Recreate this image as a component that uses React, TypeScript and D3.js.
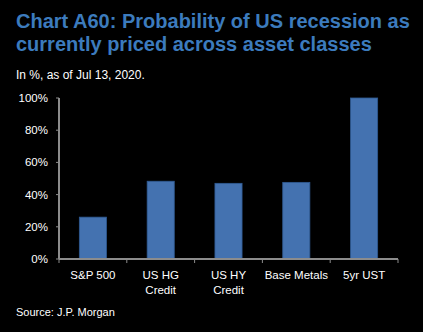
import React from "react";
import * as d3 from "d3";

const categories = [["S&P 500"], ["US HG", "Credit"], ["US HY", "Credit"], ["Base Metals"], ["5yr UST"]];
const values = [26, 48.3, 47, 47.6, 100];
const yTicks = [0, 20, 40, 60, 80, 100];

const W = 423, H = 332;
const left = 59, right = 398, top = 98, bottom = 259;

export default function App() {
  const x = d3.scaleBand<number>().domain(d3.range(values.length)).range([left, right]).paddingInner(0.6).paddingOuter(0.3);
  const xStep = d3.scaleLinear().domain([0, values.length]).range([left, right]);
  const y = d3.scaleLinear().domain([0, 100]).range([bottom, top]);
  const font = "'Liberation Sans', Arial, sans-serif";
  return (
    <svg width={W} height={H} style={{ position: "absolute", left: 0, top: 0, background: "#000" }} fontFamily={font}>
      <rect width={W} height={H} fill="#000" />
      <text x={16} y={28} fill="#3C7BBD" fontSize={20} fontWeight="bold">Chart A60: Probability of US recession as</text>
      <text x={16} y={51} fill="#3C7BBD" fontSize={20} fontWeight="bold">currently priced across asset classes</text>
      <text x={16} y={79} fill="#fff" fontSize={12}>In %, as of Jul 13, 2020.</text>
      {values.map((v, i) => (
        <rect key={i} x={x(i)} y={y(v)} width={x.bandwidth()} height={y(0) - y(v)} fill="#4472B0" stroke="#2F5A92" strokeWidth={0.8} />
      ))}
      <line x1={left} x2={left} y1={top} y2={bottom} stroke="#8C8C8C" strokeWidth={2} />
      {yTicks.map(t => (
        <g key={t}>
          <line x1={left - 3} x2={left} y1={y(t)} y2={y(t)} stroke="#8C8C8C" strokeWidth={1} />
          <text x={48} y={y(t) + 4} textAnchor="end" fill="#fff" fontSize={11.5}>{t}%</text>
        </g>
      ))}
      <line x1={left} x2={right} y1={bottom} y2={bottom} stroke="#8C8C8C" strokeWidth={2} />
      {d3.range(values.length + 1).map(i => (
        <line key={i} x1={xStep(i)} x2={xStep(i)} y1={bottom} y2={bottom + 4} stroke="#8C8C8C" strokeWidth={1} />
      ))}
      {categories.map((lines, i) => (
        <text key={i} textAnchor="middle" fill="#fff" fontSize={11.5}>
          {lines.map((l, j) => (
            <tspan key={j} x={x(i)! + x.bandwidth() / 2} y={279 + j * 15}>{l}</tspan>
          ))}
        </text>
      ))}
      <text x={16} y={316} fill="#fff" fontSize={11}>Source: J.P. Morgan</text>
    </svg>
  );
}
